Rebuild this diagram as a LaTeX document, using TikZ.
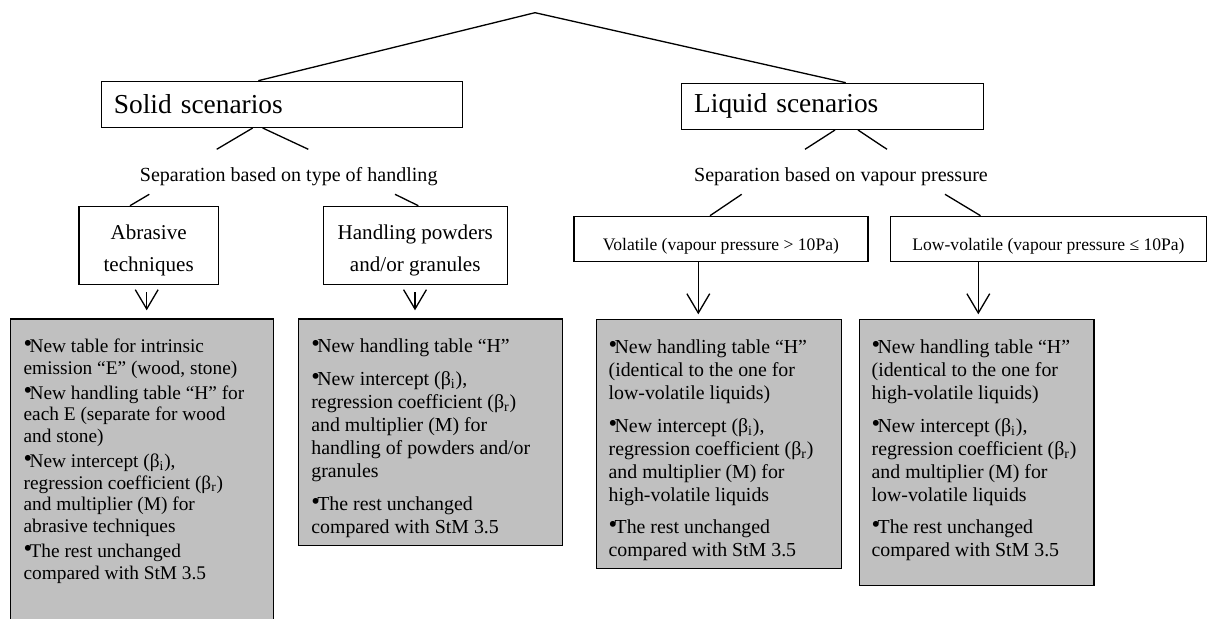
\documentclass[tikz,border=0pt]{standalone}
\usepackage{fontspec}
\setmainfont{Liberation Serif}
\usetikzlibrary{arrows.meta}
\definecolor{boxgray}{RGB}{192,192,192}
\newcommand{\bul}{\makebox[3.4pt][l]{\raisebox{.1ex}{\fontsize{14pt}{14pt}\selectfont •}}}
\begin{document}
\begin{tikzpicture}[x=0.02cm,y=-0.02cm,line width=0.75pt,
	scen/.style={draw,anchor=north west,align=left,inner xsep=0.25cm,inner ysep=0pt,minimum height=0.92cm,font=\fontsize{15.6}{18}\selectfont},
	kind/.style={draw,anchor=north west,align=center,inner sep=0pt,minimum height=1.566cm,font=\fontsize{12}{18}\selectfont},
	vap/.style={draw,anchor=north west,inner sep=0pt,text height=0.686cm,text depth=0.22cm,font=\fontsize{10}{12}\selectfont},
	sep/.style={inner sep=0pt,font=\fontsize{11.4}{13}\selectfont},
	res/.style={draw,fill=boxgray,anchor=north west,inner sep=0pt},
	restext/.style={anchor=north west,align=left,inner sep=0pt,font=\fontsize{11.3}{13.1}\selectfont},
	arr/.style={-{Straight Barb[length=11pt,width=13pt]}}]
	\useasboundingbox (0,0) rectangle (1212,618);
	\clip (0,0) rectangle (1212,618);
	\node[scen,text width=6.72cm] (solid) at (100.7,80.7) {Solid scenarios};
	\node[scen,text width=5.54cm] (liquid) at (681,82.7) {Liquid scenarios};
	\coordinate (top) at (535,12.7);
	\draw (solid.north -| 258.3,0) -- (top) -- (liquid.north -| 845.7,0);
	\coordinate (sf1) at (216.7,149.3);
	\coordinate (sf2) at (308.3,149.3);
	\coordinate (lf1) at (805,149.3);
	\coordinate (lf2) at (887,149.3);
	\draw (solid.south -| 252.7,0) -- (sf1);
	\draw (solid.south -| 262.7,0) -- (sf2);
	\draw (liquid.south -| 835,0) -- (lf1);
	\draw (liquid.south -| 858,0) -- (lf2);
	\node[sep] (sepsolid) at (288.7,176.7) {Separation based on type of handling};
	\node[sep] (sepliquid) at (841,176.7) {Separation based on vapour pressure};
	\node[kind,minimum width=2.788cm] (abrasive) at (78.3,205.7) {\rule{0pt}{14pt}Abrasive\\techniques};
	\node[kind,minimum width=3.684cm] (powders) at (322.5,205.7) {\rule{0pt}{14pt}Handling powders\\and/or granules};
	\node[vap,minimum width=5.88cm] (volatile) at (573.3,215.7) {Volatile (vapour pressure > 10Pa)};
	\node[vap,minimum width=6.314cm] (lowvol) at (890,215.7) {Low-volatile (vapour pressure ≤ 10Pa)};
	\coordinate (sa) at (149.3,194.3);
	\coordinate (sp) at (395,194.3);
	\coordinate (sv) at (741.7,194.3);
	\coordinate (sl) at (945,194.3);
	\draw (sa) -- (abrasive.north -| 130,0);
	\draw (sp) -- (powders.north -| 418.3,0);
	\draw (sv) -- (volatile.north -| 710,0);
	\draw (sl) -- (lowvol.north -| 980.5,0);
	\node[res,minimum width=5.26cm,minimum height=6.5cm] (abrres) at (10,318.3) {};
	\node[res,minimum width=5.28cm,minimum height=4.534cm] (powres) at (297.7,318.3) {};
	\node[res,minimum width=4.894cm,minimum height=4.98cm] (volres) at (596,319) {};
	\node[res,minimum width=4.686cm,minimum height=5.32cm] (lowres) at (859,319) {};
	\draw[arr,shorten <=0.14cm,shorten >=0.16cm] (abrasive.south -| 146.7,0) -- (abrres.north -| 146.7,0);
	\draw[arr,shorten <=0.14cm,shorten >=0.16cm] (powders.south -| 415,0) -- (powres.north -| 415,0);
	\draw[arr,shorten >=0.094cm] (volatile.south -| 698.3,0) -- (volres.north -| 698.3,0);
	\draw[arr,shorten >=0.094cm] (lowvol.south -| 978.3,0) -- (lowres.north -| 978.3,0);
	\node[restext,font=\fontsize{11}{12.35}\selectfont] at ([xshift=0.26cm,yshift=-0.4cm]abrres.north west)
		{\bul New table for intrinsic\\emission “E” (wood, stone)\\[1.8pt]
		\bul New handling table “H” for\\each E (separate for wood\\and stone)\\[1.8pt]
		\bul New intercept (β\textsubscript{i}),\\regression coefficient (β\textsubscript{r})\\and multiplier (M) for\\abrasive techniques\\[1.8pt]
		\bul The rest unchanged\\compared with StM 3.5};
	\node[restext] at ([xshift=0.26cm,yshift=-0.4cm]powres.north west)
		{\bul New handling table “H”\\[5.5pt]
		\bul New intercept (β\textsubscript{i}),\\regression coefficient (β\textsubscript{r})\\and multiplier (M) for\\handling of powders and/or\\granules\\[5.5pt]
		\bul The rest unchanged\\compared with StM 3.5};
	\node[restext] at ([xshift=0.24cm,yshift=-0.4cm]volres.north west)
		{\bul New handling table “H”\\(identical to the one for\\low-volatile liquids)\\[5.5pt]
		\bul New intercept (β\textsubscript{i}),\\regression coefficient (β\textsubscript{r})\\and multiplier (M) for\\high-volatile liquids\\[5.5pt]
		\bul The rest unchanged\\compared with StM 3.5};
	\node[restext] at ([xshift=0.24cm,yshift=-0.4cm]lowres.north west)
		{\bul New handling table “H”\\(identical to the one for\\high-volatile liquids)\\[5.5pt]
		\bul New intercept (β\textsubscript{i}),\\regression coefficient (β\textsubscript{r})\\and multiplier (M) for\\low-volatile liquids\\[5.5pt]
		\bul The rest unchanged\\compared with StM 3.5};
\end{tikzpicture}
\end{document}
